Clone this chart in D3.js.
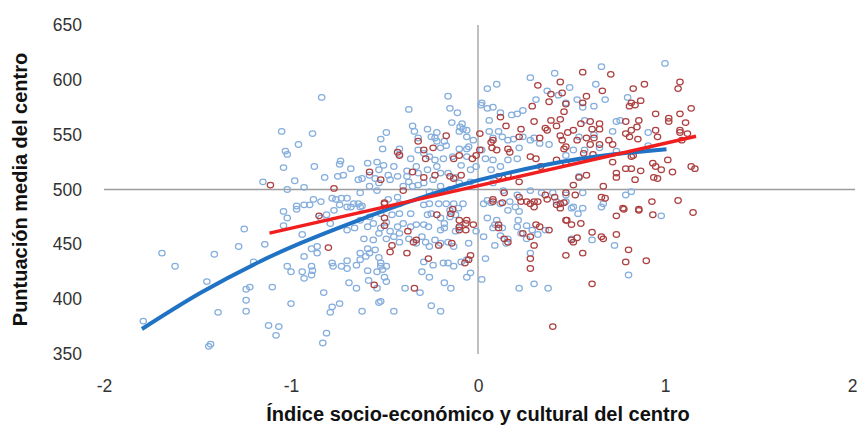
<!DOCTYPE html>
<html>
<head>
<meta charset="utf-8">
<script src="https://cdn.jsdelivr.net/npm/d3@7"></script>
<style>
html,body{margin:0;padding:0;background:#fff;}
svg{display:block;}
text{font-family:"Liberation Sans",Arial,sans-serif;}
</style>
</head>
<body>
<svg id="chart" width="858" height="427"></svg>
<script>
// ---- data ----
const xTicks = [-2, -1, 0, 1, 2];
const yTicks = [350, 400, 450, 500, 550, 600, 650];
const xTitle = "Índice socio-económico y cultural del centro";
const yTitle = "Puntuación media del centro";

const blueX = [-1.79,-1.69,-1.62,-1.44,-1.43,-1.45,-1.41,-1.39,-1.28,-1.25,-1.24,-1.22,-1.24,-1.24,-1.20,-1.14,-1.12,-1.065,-1.08,-1.10,-1.02,-1.00,-1.00,-1.04,-1.02,-1.04,-0.97,-1.05,-1.03,-1.02,-1.04,-1.15,-1.02,-0.98,-0.96,-0.97,
-0.836,-0.885,-0.875,-0.82,-0.75,-0.72,-0.735,-0.74,-0.68,-0.64,-0.62,-0.93,-0.88,-0.84,-0.93,-0.90,-0.78,-0.76,-0.73,-0.70,-0.63,-0.64,-0.62,-0.59,-0.54,-0.53,-0.58,-0.55,-0.505,-0.48,-0.47,-0.49,-0.52,-0.51,-0.45,-0.43,-0.38,-0.42,-0.42,-0.37,-0.35,-0.34,-0.36,-0.38,-0.37,-0.33,-0.32,-0.40,-0.35,-0.32,-0.32,-0.32,-0.58,-0.53,-0.54,-0.48,-0.43,-0.42,-0.74,-0.68,-0.63,
0.10,0.05,-0.16,-0.15,-0.11,0.02,0.05,-0.14,-0.085,-0.08,-0.10,-0.06,-0.22,-0.27,-0.23,-0.18,-0.20,-0.17,-0.29,-0.26,-0.23,-0.185,-0.135,-0.10,-0.06,-0.06,-0.09,-0.04,-0.01,-0.27,-0.22,-0.20,-0.24,-0.16,-0.12,-0.29,-0.26,-0.20,-0.15,-0.10,-0.04,0.06,0.12,0.18,0.21,0.06,0.11,0.08,0.13,0.16,0.19,0.22,0.02,0.04,0.08,0.12,0.07,0.16,0.21,0.24,0.28,0.30,0.33,0.38,0.28,0.41,0.37,0.43,0.49,0.53,0.47,0.31,0.24,0.08,0.135,0.21,0.28,0.34,0.40,0.47,0.05,0.12,0.17,0.47,0.51,
0.66,1.00,0.63,0.68,0.62,0.56,0.80,0.74,0.76,0.57,0.72,0.91,0.54,0.62,0.57,0.65,0.74,0.91,0.54,0.56,0.79,0.82,0.66,
-0.94,-0.89,-0.86,-0.86,-0.93,-0.94,-0.89,-0.885,-0.93,-0.89,-0.78,-0.775,-0.73,-0.70,-0.825,-0.69,-0.65,-0.78,-0.74,-0.79,-0.62,-0.53,-0.45,-0.81,-0.83,-0.585,-0.54,-0.51,-0.50,-0.49,-0.49,-0.52,-0.63,-0.60,-0.58,-0.55,-0.53,-0.63,-0.59,-0.61,-0.56,-0.53,-0.49,-0.45,-0.42,-0.37,-0.33,-0.59,-0.56,-0.52,-0.49,-0.43,-0.40,-0.36,-0.33,-0.47,-0.42,-0.70,-0.66,-0.63,-0.58,-0.52,-0.46,-0.42,-0.36,-0.77,-0.70,-0.665,-0.81,-0.84,-0.79,-0.52,-0.39,
-0.29,-0.26,-0.21,-0.17,-0.13,-0.08,-0.105,-0.15,-0.27,-0.25,-0.20,-0.18,-0.15,-0.12,-0.29,-0.265,-0.20,-0.18,-0.12,-0.10,-0.01,-0.30,-0.28,-0.26,-0.23,-0.20,-0.16,-0.13,-0.05,-0.09,-0.06,-0.13,-0.29,-0.24,-0.185,-0.16,-0.30,-0.26,-0.18,-0.145,-0.06,-0.04,-0.31,-0.25,-0.20,0.02,0.04,0.03,0.07,0.10,0.05,0.09,0.08,0.13,0.12,0.16,0.15,0.09,0.03,0.16,0.20,0.22,0.215,0.21,0.26,0.29,0.32,0.36,0.26,0.23,0.28,0.30,0.375,0.22,0.42,0.47,0.50,0.535,
0.67,0.98,0.56,0.61,0.73,0.805,0.51,0.50,
-0.25,-0.22,-0.096,-0.06,-0.05,-0.025,0.016,0.08,-0.54,-0.70,-0.65,-0.59,-0.52];
const blueY = [380,442,430,357,359,416,441,388,448,464,409,411,399,389,434,450,376,375,367,411,430,396,425,480,474,467,482,553,535,532,520,507,500,508,541,485,
584,551,521,511,512,513,526,523,519,509,510,502,491,489,486,486,492,491,492,492,497,487,485,524,525,518,513,510,522,513,509,552,546,537,521,512,517,537,532,573,558,553,528,512,507,521,515,503,503,504,547,536,503,506,499,491,493,487,486,484,484,
596,592,585,574,570,579,574,561,560,555,553,554,552,555,547,544,538,540,533,530,527,528,530,537,537,530,522,518,521,518,521,515,509,515,511,506,498,503,500,506,507,563,570,568,569,553,553,547,548,545,546,538,536,528,527,521,518,527,528,548,545,547,542,541,602,606,590,586,593,582,579,582,572,506,499,495,499,497,497,495,490,487,489,531,536,
612,615,596,582,576,575,584,562,563,563,553,552,548,550,536,538,535,540,512,497,495,498,484,
459,446,448,442,439,425,430,426,419,422,433,430,430,435,406,415,410,393,396,388,389,397,389,369,360,417,425,427,420,416,430,433,442,439,442,445,438,436,446,455,454,460,455,457,452,455,451,466,469,465,470,466,469,466,468,462,460,463,465,472,475,478,477,478,478,481,484,487,477,474,469,398,410,
486,487,487,487,487,487,483,481,477,478,474,469,475,477,468,466,463,465,462,465,462,457,452,448,454,451,452,448,451,434,436,430,434,431,433,433,425,420,415,410,420,424,406,394,389,418,437,487,488,472,474,468,465,465,458,455,451,449,457,481,484,480,472,466,467,463,459,463,455,460,442,414,410,410,489,489,483,478,
487,476,483,454,449,422,484,455,
548,544,557,548,539,545,577,575,410,428,431,426,430];

const redX = [-1.11,-0.77,-0.58,-0.52,-0.42,-0.43,-0.35,-0.32,-0.40,-0.50,-0.17,-0.28,-0.24,-0.29,-0.13,-0.10,-0.29,-0.23,-0.15,-0.13,-0.09,-0.03,-0.01,0.01,0.01,0.07,0.08,0.075,0.10,0.12,0.15,0.17,0.16,0.22,0.23,0.28,0.30,0.29,0.11,0.16,0.22,0.14,0.33,0.36,0.37,0.39,0.42,0.44,0.46,0.44,0.45,0.47,0.46,0.48,0.51,0.53,0.32,0.39,0.44,0.45,0.47,0.38,0.31,0.335,0.42,0.47,0.08,0.13,0.22,0.28,0.32,0.36,0.37,0.41,0.44,0.47,0.51,0.52,
0.56,0.71,0.665,0.83,0.89,1.08,1.07,0.58,0.56,0.81,0.82,0.84,0.87,0.95,1.02,1.02,1.08,1.11,1.14,0.55,0.60,0.65,0.61,0.65,0.79,0.86,0.82,0.85,0.79,0.95,1.08,0.58,0.62,0.65,0.60,0.70,0.81,0.855,0.96,1.08,1.12,1.09,0.565,0.615,0.72,0.83,0.72,0.82,0.79,0.82,0.87,0.935,0.95,0.98,1.015,1.04,1.14,1.16,0.74,0.74,0.84,0.94,0.96,0.58,0.54,0.67,0.66,0.68,0.93,1.07,0.775,0.86,
-0.85,-0.80,-0.50,-0.50,-0.50,-0.46,-0.47,-0.375,-0.345,-0.33,-0.38,-0.555,-0.34,
-0.22,-0.145,-0.135,-0.10,-0.06,-0.10,-0.065,-0.065,-0.025,-0.10,-0.21,-0.14,-0.265,-0.04,-0.05,-0.07,0.08,0.11,0.11,0.14,0.16,0.23,0.26,0.30,0.30,0.31,0.33,0.24,0.28,0.38,0.30,0.28,0.28,0.40,0.42,0.44,0.47,0.50,0.50,0.51,0.47,
0.78,0.86,0.74,0.935,1.15,0.55,0.61,0.66,0.67,0.74,0.56,0.805,0.79,0.90,0.61,0.46,0.475,0.53];
const redY = [504,501,516,509,531,534,516,544,499,488,549,528,538,536,528,531,511,513,512,510,513,528,531,551,536,543,545,538,536,566,558,534,537,548,555,530,562,576,512,513,507,497,547,556,554,563,558,564,571,549,545,539,537,552,554,545,595,587,598,588,578,580,528,521,527,524,491,488,493,487,489,495,491,493,487,497,504,495,
607,605,590,592,596,598,592,585,579,576,579,577,581,569,565,562,569,561,574,560,562,560,555,555,562,563,554,557,551,554,554,547,547,541,541,545,548,546,548,552,551,545,533,532,541,531,525,530,519,519,517,524,521,518,527,516,521,519,515,511,509,511,510,513,511,503,493,492,489,490,483,482,
476,447,487,474,467,449,443,462,452,454,442,413,410,
477,478,482,472,472,466,469,463,468,463,449,451,437,440,436,433,489,468,465,455,452,489,489,489,484,468,466,460,457,463,449,437,428,375,486,483,472,468,454,452,440,
482,481,476,477,479,469,461,457,455,459,442,445,434,435,414,488,472,456];

// fitted curves
const blueCurveX = [-1.797,-1.483,-1.163,-0.949,-0.629,-0.309,0.003,0.544,1.008];
const blueCurveY = [372.8,405.8,434.6,451.1,472.6,492.3,508.5,528.0,536.8];
const redLineX = [-1.115, 1.166];
const redLineY = [460.2, 548.5];

// ---- drawing ----
const svg = d3.select("#chart");
const x = d3.scaleLinear().domain([-2, 2]).range([104, 852]);
const y = d3.scaleLinear().domain([350, 650]).range([354, 25]);

svg.append("rect").attr("width", 858).attr("height", 427).attr("fill", "#fff");

// reference axes crossing at (0, 500)
svg.append("line")
  .attr("x1", x(-2)).attr("x2", x(2) + 3)
  .attr("y1", y(500)).attr("y2", y(500))
  .attr("stroke", "#9d9d9d").attr("stroke-width", 1.3);
svg.append("line")
  .attr("x1", x(0)).attr("x2", x(0))
  .attr("y1", y(650)).attr("y2", y(350))
  .attr("stroke", "#9d9d9d").attr("stroke-width", 1.3);

// tick labels via d3 axes
const xAxis = svg.append("g")
  .attr("transform", `translate(0,${y(350)})`)
  .call(d3.axisBottom(x).tickValues(xTicks).tickSize(0).tickPadding(26).tickFormat(d3.format("d")));
const yAxis = svg.append("g")
  .attr("transform", `translate(${x(-2)},0)`)
  .call(d3.axisLeft(y).tickValues(yTicks).tickSize(0).tickPadding(22).tickFormat(d3.format("d")));
[xAxis, yAxis].forEach(g => {
  g.select(".domain").remove();
  g.selectAll("text")
    .attr("fill", "#333")
    .style("font-family", '"Liberation Sans", Arial, sans-serif')
    .style("font-size", "17.5px");
});
xAxis.selectAll("text").text(d => d < 0 ? "-" + Math.abs(d) : d);

// scatter points
const blue = blueX.map((v, i) => [v, blueY[i]]);
const red = redX.map((v, i) => [v, redY[i]]);

svg.append("g").selectAll("ellipse").data(blue).join("ellipse")
  .attr("cx", d => x(d[0])).attr("cy", d => y(d[1]))
  .attr("rx", 3.2).attr("ry", 2.8)
  .attr("fill", "none").attr("stroke", "#85aedd").attr("stroke-width", 1.25);

svg.append("g").selectAll("ellipse").data(red).join("ellipse")
  .attr("cx", d => x(d[0])).attr("cy", d => y(d[1]))
  .attr("rx", 3.2).attr("ry", 2.8)
  .attr("fill", "none").attr("stroke", "#ad4040").attr("stroke-width", 1.25);

// fitted lines
const line = d3.line().x(d => x(d[0])).y(d => y(d[1])).curve(d3.curveCatmullRom);
svg.append("path")
  .datum(blueCurveX.map((v, i) => [v, blueCurveY[i]]))
  .attr("d", line)
  .attr("fill", "none").attr("stroke", "#1f72c4").attr("stroke-width", 4).attr("stroke-linecap", "butt");
svg.append("path")
  .datum(redLineX.map((v, i) => [v, redLineY[i]]))
  .attr("d", d3.line().x(d => x(d[0])).y(d => y(d[1])))
  .attr("fill", "none").attr("stroke", "#f01e1e").attr("stroke-width", 3.5);

// axis titles
svg.append("text")
  .attr("x", x(0)).attr("y", 421)
  .attr("text-anchor", "middle")
  .attr("font-weight", "bold").attr("font-size", "20px").attr("fill", "#111")
  .text(xTitle);
svg.append("text")
  .attr("transform", `translate(27,${y(500)}) rotate(-90)`)
  .attr("text-anchor", "middle")
  .attr("font-weight", "bold").attr("font-size", "20px").attr("fill", "#111")
  .text(yTitle);
</script>
</body>
</html>
